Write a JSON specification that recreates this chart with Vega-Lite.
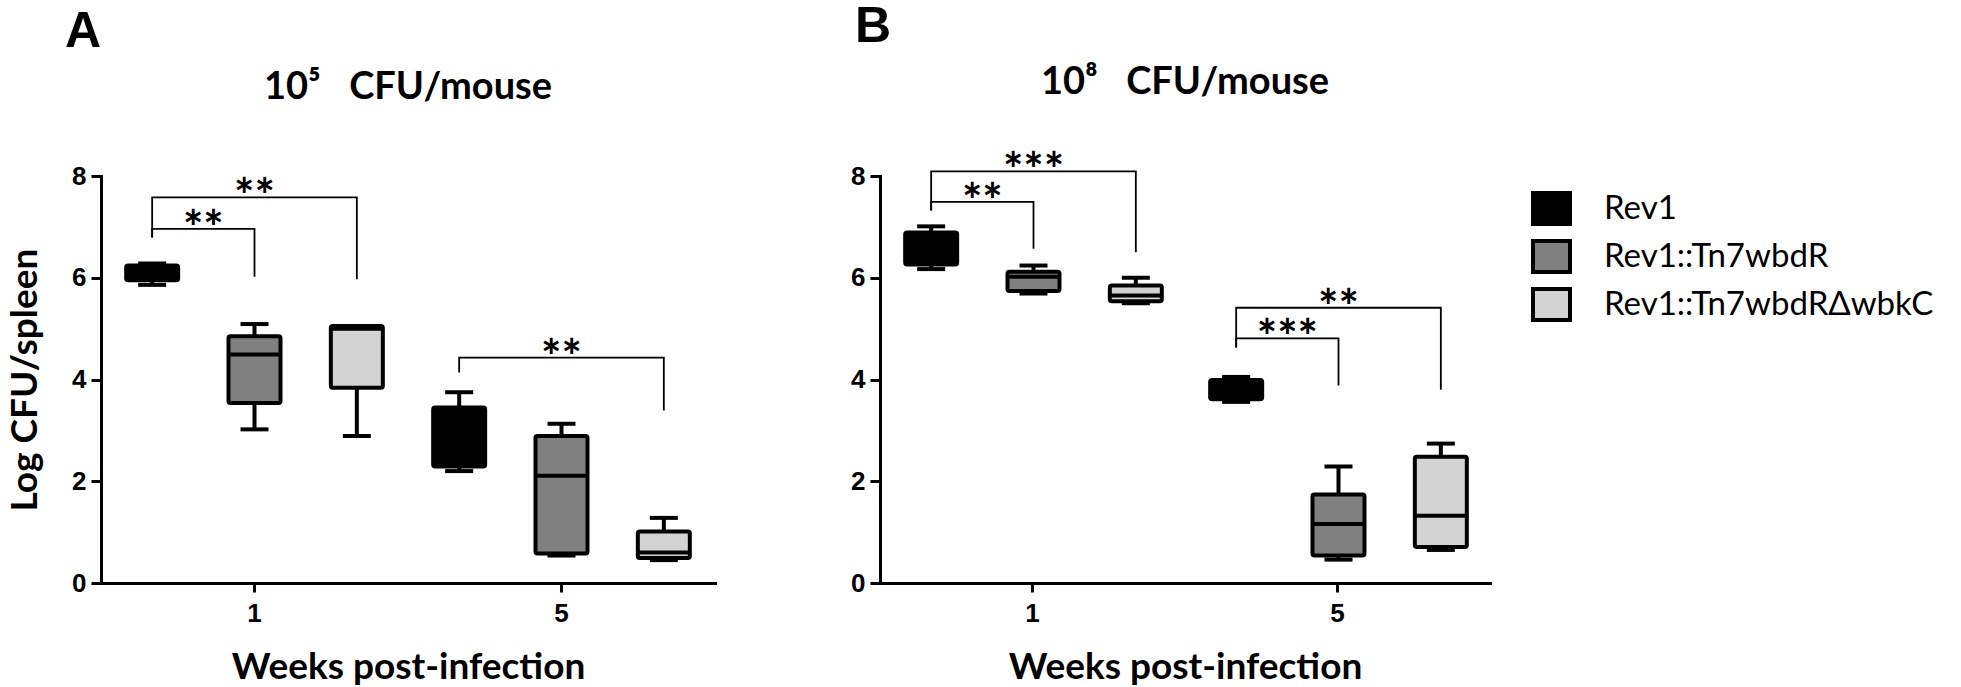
{
  "$schema": "https://vega.github.io/schema/vega-lite/v6.json",
  "background": "white",
  "padding": {"left": 6, "top": 2, "right": 5, "bottom": 0},
  "bounds": "full",
  "spacing": 135,
  "config": {
    "view": {"stroke": null},
    "font": "Lato",
    "axis": {
      "domainColor": "black", "domainWidth": 3, "domainCap": "square",
      "tickColor": "black", "tickWidth": 3,
      "labelFont": "Liberation Sans", "labelFontWeight": "bold", "labelFontSize": 26, "labelColor": "black",
      "titleFont": "Lato", "titleFontWeight": "bold", "titleFontSize": 37, "titleColor": "black",
      "grid": false
    },
    "axisX": {"tickSize": 9, "labelPadding": 8, "titlePadding": 23, "labelAngle": 0},
    "axisY": {"tickSize": 10, "labelPadding": 5, "titlePadding": 27},
    "title": {"color": "black"}
  },
  "datasets": {
    "boxes": [
      {"dose": "A", "week": "1", "strain": "Rev1", "min": 5.86, "q1": 5.95, "median": 6.1, "q3": 6.24, "max": 6.28},
      {"dose": "A", "week": "1", "strain": "Rev1::Tn7wbdR", "min": 3.02, "q1": 3.54, "median": 4.49, "q3": 4.85, "max": 5.09},
      {"dose": "A", "week": "1", "strain": "Rev1::Tn7wbdRΔwbkC", "min": 2.89, "q1": 3.84, "median": 5.0, "q3": 5.05, "max": 5.05},
      {"dose": "A", "week": "5", "strain": "Rev1", "min": 2.2, "q1": 2.29, "median": 2.9, "q3": 3.45, "max": 3.75},
      {"dose": "A", "week": "5", "strain": "Rev1::Tn7wbdR", "min": 0.54, "q1": 0.58, "median": 2.11, "q3": 2.89, "max": 3.13},
      {"dose": "A", "week": "5", "strain": "Rev1::Tn7wbdRΔwbkC", "min": 0.45, "q1": 0.49, "median": 0.6, "q3": 1.01, "max": 1.28},
      {"dose": "B", "week": "1", "strain": "Rev1", "min": 6.17, "q1": 6.26, "median": 6.6, "q3": 6.89, "max": 7.01},
      {"dose": "B", "week": "1", "strain": "Rev1::Tn7wbdR", "min": 5.69, "q1": 5.74, "median": 6.02, "q3": 6.12, "max": 6.24},
      {"dose": "B", "week": "1", "strain": "Rev1::Tn7wbdRΔwbkC", "min": 5.5, "q1": 5.54, "median": 5.65, "q3": 5.85, "max": 6.0},
      {"dose": "B", "week": "5", "strain": "Rev1", "min": 3.56, "q1": 3.61, "median": 3.8, "q3": 3.99, "max": 4.05},
      {"dose": "B", "week": "5", "strain": "Rev1::Tn7wbdR", "min": 0.46, "q1": 0.54, "median": 1.16, "q3": 1.74, "max": 2.29},
      {"dose": "B", "week": "5", "strain": "Rev1::Tn7wbdRΔwbkC", "min": 0.65, "q1": 0.71, "median": 1.32, "q3": 2.48, "max": 2.74}
    ],
    "brackets": [
      {"dose": "A", "id": "A1", "week": "1", "seq": 1, "slot": "Rev1", "y": 6.79},
      {"dose": "A", "id": "A1", "week": "1", "seq": 2, "slot": "Rev1", "y": 6.96},
      {"dose": "A", "id": "A1", "week": "1", "seq": 3, "slot": "Rev1::Tn7wbdR", "y": 6.96},
      {"dose": "A", "id": "A1", "week": "1", "seq": 4, "slot": "Rev1::Tn7wbdR", "y": 6.02},
      {"dose": "A", "id": "A2", "week": "1", "seq": 1, "slot": "Rev1", "y": 6.79},
      {"dose": "A", "id": "A2", "week": "1", "seq": 2, "slot": "Rev1", "y": 7.58},
      {"dose": "A", "id": "A2", "week": "1", "seq": 3, "slot": "Rev1::Tn7wbdRΔwbkC", "y": 7.58},
      {"dose": "A", "id": "A2", "week": "1", "seq": 4, "slot": "Rev1::Tn7wbdRΔwbkC", "y": 5.97},
      {"dose": "A", "id": "A3", "week": "5", "seq": 1, "slot": "Rev1", "y": 4.14},
      {"dose": "A", "id": "A3", "week": "5", "seq": 2, "slot": "Rev1", "y": 4.43},
      {"dose": "A", "id": "A3", "week": "5", "seq": 3, "slot": "Rev1::Tn7wbdRΔwbkC", "y": 4.43},
      {"dose": "A", "id": "A3", "week": "5", "seq": 4, "slot": "Rev1::Tn7wbdRΔwbkC", "y": 3.39},
      {"dose": "B", "id": "B1", "week": "1", "seq": 1, "slot": "Rev1", "y": 7.32},
      {"dose": "B", "id": "B1", "week": "1", "seq": 2, "slot": "Rev1", "y": 7.49},
      {"dose": "B", "id": "B1", "week": "1", "seq": 3, "slot": "Rev1::Tn7wbdR", "y": 7.49},
      {"dose": "B", "id": "B1", "week": "1", "seq": 4, "slot": "Rev1::Tn7wbdR", "y": 6.57},
      {"dose": "B", "id": "B2", "week": "1", "seq": 1, "slot": "Rev1", "y": 7.32},
      {"dose": "B", "id": "B2", "week": "1", "seq": 2, "slot": "Rev1", "y": 8.09},
      {"dose": "B", "id": "B2", "week": "1", "seq": 3, "slot": "Rev1::Tn7wbdRΔwbkC", "y": 8.09},
      {"dose": "B", "id": "B2", "week": "1", "seq": 4, "slot": "Rev1::Tn7wbdRΔwbkC", "y": 6.5},
      {"dose": "B", "id": "B3", "week": "5", "seq": 1, "slot": "Rev1", "y": 4.63},
      {"dose": "B", "id": "B3", "week": "5", "seq": 2, "slot": "Rev1", "y": 4.81},
      {"dose": "B", "id": "B3", "week": "5", "seq": 3, "slot": "Rev1::Tn7wbdR", "y": 4.81},
      {"dose": "B", "id": "B3", "week": "5", "seq": 4, "slot": "Rev1::Tn7wbdR", "y": 3.88},
      {"dose": "B", "id": "B4", "week": "5", "seq": 1, "slot": "Rev1", "y": 4.63},
      {"dose": "B", "id": "B4", "week": "5", "seq": 2, "slot": "Rev1", "y": 5.41},
      {"dose": "B", "id": "B4", "week": "5", "seq": 3, "slot": "Rev1::Tn7wbdRΔwbkC", "y": 5.41},
      {"dose": "B", "id": "B4", "week": "5", "seq": 4, "slot": "Rev1::Tn7wbdRΔwbkC", "y": 3.8}
    ],
    "labels": [
      {"dose": "A", "week": "1", "slot": "m1", "y": 6.96, "text": "**"},
      {"dose": "A", "week": "1", "slot": "Rev1::Tn7wbdR", "y": 7.58, "text": "**"},
      {"dose": "A", "week": "5", "slot": "Rev1::Tn7wbdR", "y": 4.43, "text": "**"},
      {"dose": "B", "week": "1", "slot": "m1", "y": 7.49, "text": "**"},
      {"dose": "B", "week": "1", "slot": "Rev1::Tn7wbdR", "y": 8.09, "text": "***"},
      {"dose": "B", "week": "5", "slot": "m1", "y": 4.81, "text": "***"},
      {"dose": "B", "week": "5", "slot": "Rev1::Tn7wbdR", "y": 5.41, "text": "**"}
    ]
  },
  "hconcat": [
    {
      "title": {"text": "A", "anchor": "start", "frame": "group", "dx": -36, "dy": 53, "offset": 25, "baseline": "alphabetic", "font": "Liberation Sans", "fontSize": 50, "fontWeight": "bold"},
      "vconcat": [
        {
          "width": 614,
          "height": 407,
          "title": {"text": "10⁵\u2003CFU/mouse", "anchor": "middle", "frame": "group", "offset": 26, "baseline": "alphabetic", "font": "Lato", "fontSize": 38, "fontWeight": "bold"},
          "encoding": {
            "x": {"field": "week", "type": "nominal", "sort": ["1", "5"], "scale": {"type": "band", "paddingInner": 0, "paddingOuter": 0}, "axis": {"title": "Weeks post-infection", "titleFontSize": 37}}
          },
          "layer": [
            {
              "data": {"name": "boxes"},
              "transform": [{"filter": "datum.dose === 'A'"}],
              "layer": [
                {"mark": {"type": "rule", "color": "black", "strokeWidth": 4},
                 "encoding": {"xOffset": {"field": "strain", "type": "nominal", "scale": {"type": "point", "domain": ["Rev1", "m1", "Rev1::Tn7wbdR", "m2", "Rev1::Tn7wbdRΔwbkC"], "padding": 1.69}},
                   "y": {"field": "min", "type": "quantitative", "scale": {"domain": [0, 8]}, "axis": {"values": [0, 2, 4, 6, 8], "title": "Log CFU/spleen", "titleFontSize": 37}},
                   "y2": {"field": "max"}}},
                {"mark": {"type": "tick", "color": "black", "size": 28, "thickness": 4, "opacity": 1},
                 "encoding": {"xOffset": {"field": "strain", "type": "nominal"}, "y": {"field": "min", "type": "quantitative"}}},
                {"mark": {"type": "tick", "color": "black", "size": 28, "thickness": 4, "opacity": 1},
                 "encoding": {"xOffset": {"field": "strain", "type": "nominal"}, "y": {"field": "max", "type": "quantitative"}}},
                {"mark": {"type": "bar", "width": 52, "stroke": "black", "strokeWidth": 4, "cornerRadius": 2, "opacity": 1},
                 "encoding": {"xOffset": {"field": "strain", "type": "nominal"},
                   "y": {"field": "q1", "type": "quantitative"}, "y2": {"field": "q3"},
                   "color": {"field": "strain", "type": "nominal",
                     "scale": {"domain": ["Rev1", "Rev1::Tn7wbdR", "Rev1::Tn7wbdRΔwbkC"], "range": ["#000000", "#808080", "#d3d3d3"]},
                     "legend": {"title": null, "orient": "none", "legendX": 1433, "legendY": 15, "symbolType": "M-1.2,-1H1.2V1H-1.2Z", "symbolSize": 950, "symbolStrokeColor": "black", "symbolStrokeWidth": 4, "symbolOpacity": 1, "labelFont": "Lato", "labelFontSize": 33, "labelColor": "black", "labelOffset": 35, "rowPadding": 1, "labelLimit": 500}}}},
                {"mark": {"type": "tick", "color": "black", "size": 52, "thickness": 4, "opacity": 1},
                 "encoding": {"xOffset": {"field": "strain", "type": "nominal"}, "y": {"field": "median", "type": "quantitative"}}}
              ]
            },
            {
              "data": {"name": "brackets"},
              "transform": [{"filter": "datum.dose === 'A'"}],
              "mark": {"type": "line", "color": "black", "strokeWidth": 1.8, "clip": false},
              "encoding": {"xOffset": {"field": "slot", "type": "nominal"}, "y": {"field": "y", "type": "quantitative"}, "detail": {"field": "id"}, "order": {"field": "seq"}}
            },
            {
              "data": {"name": "labels"},
              "transform": [{"filter": "datum.dose === 'A'"}],
              "mark": {"type": "text", "color": "black", "font": "Lato", "fontSize": 48, "fontWeight": "bold", "baseline": "alphabetic", "dy": 16},
              "encoding": {"xOffset": {"field": "slot", "type": "nominal"}, "y": {"field": "y", "type": "quantitative"}, "text": {"field": "text"}}
            }
          ]
        }
      ]
    },
    {
      "title": {"text": "B", "anchor": "start", "frame": "group", "dx": -25, "dy": 53, "offset": 25, "baseline": "alphabetic", "font": "Liberation Sans", "fontSize": 50, "fontWeight": "bold"},
      "vconcat": [
        {
          "width": 610,
          "height": 407,
          "title": {"text": "10⁸\u2003CFU/mouse", "anchor": "middle", "frame": "group", "offset": 17, "baseline": "alphabetic", "font": "Lato", "fontSize": 38, "fontWeight": "bold"},
          "encoding": {
            "x": {"field": "week", "type": "nominal", "sort": ["1", "5"], "scale": {"type": "band", "paddingInner": 0, "paddingOuter": 0}, "axis": {"title": "Weeks post-infection", "titleFontSize": 37}}
          },
          "layer": [
            {
              "data": {"name": "boxes"},
              "transform": [{"filter": "datum.dose === 'B'"}],
              "layer": [
                {"mark": {"type": "rule", "color": "black", "strokeWidth": 4},
                 "encoding": {"xOffset": {"field": "strain", "type": "nominal", "scale": {"type": "point", "domain": ["Rev1", "m1", "Rev1::Tn7wbdR", "m2", "Rev1::Tn7wbdRΔwbkC"], "padding": 1.67}},
                   "y": {"field": "min", "type": "quantitative", "scale": {"domain": [0, 8]}, "axis": {"values": [0, 2, 4, 6, 8], "title": null}},
                   "y2": {"field": "max"}}},
                {"mark": {"type": "tick", "color": "black", "size": 28, "thickness": 4, "opacity": 1},
                 "encoding": {"xOffset": {"field": "strain", "type": "nominal"}, "y": {"field": "min", "type": "quantitative"}}},
                {"mark": {"type": "tick", "color": "black", "size": 28, "thickness": 4, "opacity": 1},
                 "encoding": {"xOffset": {"field": "strain", "type": "nominal"}, "y": {"field": "max", "type": "quantitative"}}},
                {"mark": {"type": "bar", "width": 52, "stroke": "black", "strokeWidth": 4, "cornerRadius": 2, "opacity": 1},
                 "encoding": {"xOffset": {"field": "strain", "type": "nominal"},
                   "y": {"field": "q1", "type": "quantitative"}, "y2": {"field": "q3"},
                   "color": {"field": "strain", "type": "nominal"}}},
                {"mark": {"type": "tick", "color": "black", "size": 52, "thickness": 4, "opacity": 1},
                 "encoding": {"xOffset": {"field": "strain", "type": "nominal"}, "y": {"field": "median", "type": "quantitative"}}}
              ]
            },
            {
              "data": {"name": "brackets"},
              "transform": [{"filter": "datum.dose === 'B'"}],
              "mark": {"type": "line", "color": "black", "strokeWidth": 1.8, "clip": false},
              "encoding": {"xOffset": {"field": "slot", "type": "nominal"}, "y": {"field": "y", "type": "quantitative"}, "detail": {"field": "id"}, "order": {"field": "seq"}}
            },
            {
              "data": {"name": "labels"},
              "transform": [{"filter": "datum.dose === 'B'"}],
              "mark": {"type": "text", "color": "black", "font": "Lato", "fontSize": 48, "fontWeight": "bold", "baseline": "alphabetic", "dy": 16},
              "encoding": {"xOffset": {"field": "slot", "type": "nominal"}, "y": {"field": "y", "type": "quantitative"}, "text": {"field": "text"}}
            }
          ]
        }
      ]
    }
  ]
}
